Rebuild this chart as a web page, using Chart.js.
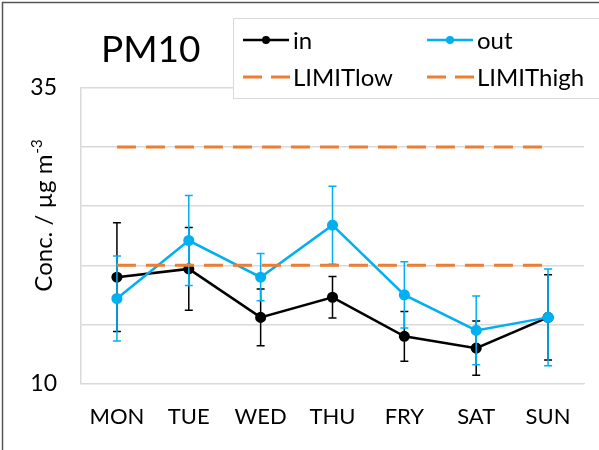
<!DOCTYPE html>
<html>
<head>
<meta charset="utf-8">
<title>PM10</title>
<script src="https://cdn.jsdelivr.net/npm/chart.js@4.4.1/dist/chart.umd.min.js"></script>
<style>
  html, body { margin: 0; padding: 0; background: #ffffff; }
  #wrap { position: relative; width: 599px; height: 450px; }
</style>
</head>
<body>
<div id="wrap"><canvas id="pm10"></canvas></div>
<script>
// Weekly PM10 concentrations (µg m-3): indoor vs outdoor, with standard deviations
const days = ['MON', 'TUE', 'WED', 'THU', 'FRY', 'SAT', 'SUN'];
const inMean  = [19.0, 19.7, 15.6, 17.3, 14.0, 13.0, 15.6];
const inSd    = [4.6, 3.5, 2.4, 1.75, 2.1, 2.3, 3.6];
const outMean = [17.2, 22.1, 19.0, 23.4, 17.5, 14.5, 15.6];
const outSd   = [3.6, 3.8, 2.0, 3.3, 2.8, 2.9, 4.1];
const limitLow  = [20, 20, 20, 20, 20, 20, 20];
const limitHigh = [30, 30, 30, 30, 30, 30, 30];
const yTickLabels = [10, 35];

const FONT = 'Lato, "Open Sans", sans-serif';
const BLACK = '#000000';
const BLUE = '#00B0F0';
const ORANGE = '#ED7D31';
const GRID = '#d9d9d9';

// Vertical error bars with caps, drawn under each dataset's line and markers
const errorBars = {
  id: 'errorBars',
  beforeDatasetDraw(chart, args) {
    const ds = chart.data.datasets[args.index];
    if (!ds.sd) return;
    const meta = args.meta;
    const y = chart.scales.y;
    const ctx = chart.ctx;
    ctx.save();
    ctx.strokeStyle = ds.borderColor;
    ctx.lineWidth = 1.5;
    meta.data.forEach((pt, i) => {
      const v = ds.data[i];
      const top = y.getPixelForValue(v + ds.sd[i]);
      const bot = y.getPixelForValue(v - ds.sd[i]);
      const x = pt.x;
      ctx.beginPath();
      ctx.moveTo(x, top); ctx.lineTo(x, bot);
      ctx.moveTo(x - 4, top); ctx.lineTo(x + 4, top);
      ctx.moveTo(x - 4, bot); ctx.lineTo(x + 4, bot);
      ctx.stroke();
    });
    ctx.restore();
  }
};

// Frame, title, y-axis title and the boxed two-column legend
const decorations = {
  id: 'decorations',
  afterDraw(chart) {
    const ctx = chart.ctx;
    ctx.save();

    // outer frame
    ctx.strokeStyle = '#555555';
    ctx.lineWidth = 1.5;
    ctx.beginPath();
    ctx.moveTo(2.5, 450); ctx.lineTo(2.5, 2.5); ctx.lineTo(599, 2.5);
    ctx.stroke();

    // chart title
    ctx.fillStyle = '#000000';
    ctx.font = '37px ' + FONT;
    ctx.textAlign = 'left';
    ctx.textBaseline = 'alphabetic';
    ctx.fillText('PM10', 101, 62);

    // y-axis title with superscript
    ctx.save();
    ctx.translate(52, 216);
    ctx.rotate(-Math.PI / 2);
    const main = 'Conc. / µg m';
    const sup = '-3';
    ctx.font = '24px ' + FONT;
    const wMain = ctx.measureText(main).width;
    ctx.font = '15px ' + FONT;
    const wSup = ctx.measureText(sup).width;
    const start = -(wMain + wSup) / 2;
    ctx.font = '24px ' + FONT;
    ctx.fillText(main, start, 0);
    ctx.font = '15px ' + FONT;
    ctx.fillText(sup, start + wMain + 1, -10);
    ctx.restore();

    // legend box
    ctx.strokeStyle = '#d9d9d9';
    ctx.lineWidth = 1;
    ctx.fillStyle = '#ffffff';
    ctx.fillRect(233.5, 18.5, 370, 80);
    ctx.strokeRect(233.5, 18.5, 370, 80);

    const items = [
      { text: 'in', color: BLACK, dash: false, x: 243, y: 40 },
      { text: 'out', color: BLUE, dash: false, x: 427, y: 40 },
      { text: 'LIMITlow', color: ORANGE, dash: true, x: 243, y: 77 },
      { text: 'LIMIThigh', color: ORANGE, dash: true, x: 427, y: 77 }
    ];
    items.forEach(it => {
      ctx.strokeStyle = it.color;
      if (it.dash) {
        ctx.lineWidth = 3;
        ctx.beginPath();
        ctx.moveTo(it.x, it.y); ctx.lineTo(it.x + 19, it.y);
        ctx.moveTo(it.x + 28, it.y); ctx.lineTo(it.x + 47, it.y);
        ctx.stroke();
      } else {
        ctx.lineWidth = 2.5;
        ctx.beginPath();
        ctx.moveTo(it.x, it.y); ctx.lineTo(it.x + 46, it.y);
        ctx.stroke();
        ctx.fillStyle = it.color;
        ctx.beginPath();
        ctx.arc(it.x + 23, it.y, 4, 0, Math.PI * 2);
        ctx.fill();
      }
      ctx.fillStyle = '#000000';
      ctx.font = '24px ' + FONT;
      ctx.textBaseline = 'middle';
      ctx.fillText(it.text, it.x + 50, it.y + 1);
    });

    ctx.restore();
  }
};

new Chart(document.getElementById('pm10'), {
  type: 'line',
  data: {
    labels: days,
    datasets: [
      {
        label: 'in', data: inMean, sd: inSd,
        borderColor: BLACK, backgroundColor: BLACK,
        borderWidth: 2.5, pointRadius: 4.3, pointHoverRadius: 4.3,
        tension: 0, order: 3
      },
      {
        label: 'out', data: outMean, sd: outSd,
        borderColor: BLUE, backgroundColor: BLUE,
        borderWidth: 2.5, pointRadius: 4.3, pointHoverRadius: 4.3,
        tension: 0, order: 2
      },
      {
        label: 'LIMITlow', data: limitLow,
        borderColor: ORANGE, borderWidth: 3, borderDash: [19, 10],
        pointRadius: 0, order: 1
      },
      {
        label: 'LIMIThigh', data: limitHigh,
        borderColor: ORANGE, borderWidth: 3, borderDash: [19, 10],
        pointRadius: 0, order: 0
      }
    ]
  },
  options: {
    responsive: true,
    maintainAspectRatio: false,
    animation: false,
    layout: { padding: { top: 88, right: 15, left: 0, bottom: 0 } },
    plugins: {
      legend: { display: false },
      title: { display: false },
      tooltip: { enabled: false }
    },
    scales: {
      x: {
        offset: true,
        grid: { display: false, drawTicks: false },
        border: { color: GRID },
        ticks: { color: '#000000', font: { family: FONT, size: 22 }, padding: 20, maxRotation: 0 }
      },
      y: {
        min: 10, max: 35,
        grid: { color: GRID, lineWidth: 1.5, drawTicks: false },
        border: { color: GRID, width: 1.5 },
        ticks: {
          stepSize: 5,
          padding: 24,
          color: '#000000',
          font: { family: FONT, size: 23 },
          callback: v => yTickLabels.includes(v) ? String(v) : ''
        },
        afterFit(scale) { scale.width = 81; }
      }
    }
  },
  plugins: [errorBars, decorations]
});
</script>
</body>
</html>
